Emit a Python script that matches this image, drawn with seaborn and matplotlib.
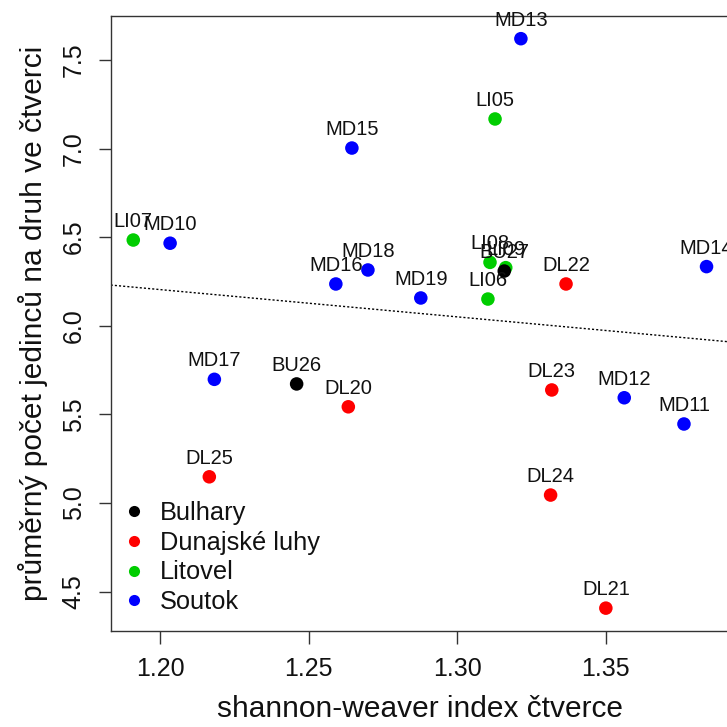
import numpy as np
import pandas as pd
import matplotlib
matplotlib.use("Agg")
import matplotlib.pyplot as plt
import seaborn as sns

# ---- data ----
names = ["LI07", "MD10", "MD15", "LI05", "MD13", "MD18", "MD16", "MD19",
         "LI08", "LI09", "BU27", "LI06", "DL22", "MD14", "MD17", "BU26",
         "DL20", "DL25", "DL23", "DL24", "DL21", "MD12", "MD11"]
sites = ["Litovel", "Soutok", "Soutok", "Litovel", "Soutok", "Soutok", "Soutok", "Soutok",
         "Litovel", "Litovel", "Bulhary", "Litovel", "Dunajské luhy", "Soutok", "Soutok", "Bulhary",
         "Dunajské luhy", "Dunajské luhy", "Dunajské luhy", "Dunajské luhy", "Dunajské luhy", "Soutok", "Soutok"]
shannon = [1.1910, 1.2034, 1.2646, 1.3128, 1.3215, 1.2700, 1.2592, 1.2878,
           1.3111, 1.3164, 1.3159, 1.3104, 1.3367, 1.3840, 1.2183, 1.2460,
           1.2634, 1.2166, 1.3319, 1.3315, 1.3501, 1.3563, 1.3764]
mean_ind = [6.484, 6.466, 7.003, 7.167, 7.620, 6.315, 6.236, 6.157,
            6.358, 6.328, 6.309, 6.151, 6.236, 6.334, 5.698, 5.672,
            5.543, 5.148, 5.638, 5.045, 4.407, 5.594, 5.446]
site_order = ["Bulhary", "Dunajské luhy", "Litovel", "Soutok"]
site_colors = ["#000000", "#FF0000", "#00CD00", "#0000FF"]
x_ticks = [1.20, 1.25, 1.30, 1.35]
y_ticks = [4.5, 5.0, 5.5, 6.0, 6.5, 7.0, 7.5]

df = pd.DataFrame({"name": names, "site": sites, "x": shannon, "y": mean_ind})

sns.set_theme(style="white")
plt.rcParams["font.family"] = ["Liberation Sans", "DejaVu Sans"]

fig = plt.figure(figsize=(7.27, 7.27), dpi=100)
ax = fig.add_axes([110.7 / 727, 1 - 631 / 727, (730 - 110.7) / 727, (631 - 16) / 727])

sns.scatterplot(data=df, x="x", y="y", hue="site", hue_order=site_order,
                palette=dict(zip(site_order, site_colors)), s=95,
                edgecolor="none", linewidth=0, ax=ax, legend=False, zorder=3)

for n, xv, yv in zip(names, shannon, mean_ind):
    t = ax.annotate(n, (xv, yv), xytext=(0, 6.5), textcoords="offset points",
                    ha="center", va="bottom", fontsize=14.5, color="#111111",
                    annotation_clip=False)
    t.set_clip_on(True)

# regression line (least squares over all points)
slope, intercept = np.polyfit(shannon, mean_ind, 1)
ax.axline((1.2, intercept + slope * 1.2), slope=slope, color="black",
          lw=1.0, ls=(0, (1.5, 1.5)), zorder=2)

ax.set_xlim(1.1834, 1.3919)
ax.set_ylim(4.278, 7.748)
ax.set_xticks(x_ticks)
ax.set_xticklabels([f"{v:.2f}" for v in x_ticks])
ax.set_yticks(y_ticks)
ax.set_yticklabels([f"{v:.1f}" for v in y_ticks], rotation=90, va="center")
ax.tick_params(axis="both", direction="out", length=9, width=1, color="#333333",
               labelsize=18, bottom=True, left=True, labelcolor="#111111")
ax.tick_params(axis="x", pad=10)
ax.tick_params(axis="y", pad=9)
for sp in ax.spines.values():
    sp.set_color("#333333")
    sp.set_linewidth(1.0)
ax.set_xlabel("shannon-weaver index čtverce", fontsize=21.5, labelpad=10, color="#111111")
ax.set_ylabel("průměrný počet jedinců na druh ve čtverci", fontsize=21.5, labelpad=10,
              color="#111111")

handles = [plt.Line2D([], [], ls="none", marker="o", markersize=8,
                      markerfacecolor=c, markeredgecolor="none") for c in site_colors]
ax.legend(handles, site_order, loc="lower left", bbox_to_anchor=(0.005, 0.011),
          frameon=False, fontsize=18.3, handlelength=0.8, handletextpad=0.6,
          labelspacing=0.22, borderaxespad=0.0, labelcolor="#111111")

fig.savefig("out.png", dpi=100)
